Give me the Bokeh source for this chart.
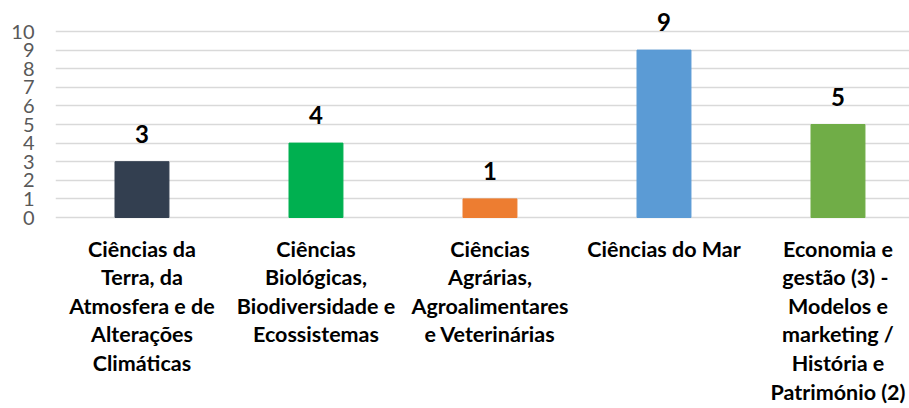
from bokeh.plotting import figure
from bokeh.models import Range1d, FixedTicker, ColumnDataSource
from bokeh.core.properties import value
from bokeh.embed import file_html
from bokeh.resources import INLINE

categories = [
    "Ciências da\nTerra, da\nAtmosfera e de\nAlterações\nClimáticas",
    "Ciências\nBiológicas,\nBiodiversidade e\nEcossistemas",
    "Ciências\nAgrárias,\nAgroalimentares\ne Veterinárias",
    "Ciências do Mar",
    "Economia e\ngestão  (3) -\nModelos e\nmarketing /\nHistória e\nPatrimónio (2)",
]
counts = [3, 4, 1, 9, 5]
colors = ["#333F50", "#00B050", "#ED7D31", "#5B9BD5", "#70AD47"]
y_ticks = list(range(0, 11))

W, H = 909, 408
p = figure(width=W, height=H, output_backend="svg", toolbar_location=None,
           x_range=Range1d(-0.497, 4.411), y_range=Range1d(-10.269, 11.667),
           min_border_left=55, min_border_right=0, min_border_top=0, min_border_bottom=0)
p.outline_line_color = None
p.background_fill_color = "white"
p.border_fill_color = "white"

xs = list(range(len(categories)))
src = ColumnDataSource(dict(x=xs, top=counts, color=colors, cat=categories,
                            lbl=[str(c) for c in counts], zero=[0] * len(xs)))

p.vbar(x="x", top="top", bottom=0, width=0.31, color="color", source=src)

p.text(x="x", y="top", text="lbl", source=src, text_align="center", text_baseline="middle",
       y_offset=-28, text_font=value("Lato"), text_font_style="bold", text_font_size="24px",
       text_color="#000000")

p.text(x="x", y="zero", text="cat", source=src, text_align="center", text_baseline="top",
       y_offset=18, text_font=value("Lato"), text_font_style="bold", text_font_size="21.5px",
       text_color="#000000", text_line_height=1.1)

p.xaxis.visible = False
p.xgrid.visible = False
p.yaxis.ticker = FixedTicker(ticks=y_ticks)
p.yaxis.axis_line_color = None
p.yaxis.major_tick_line_color = None
p.yaxis.minor_tick_line_color = None
p.yaxis.major_tick_out = 0
p.yaxis.major_tick_in = 0
p.yaxis.major_label_standoff = 21
p.yaxis.major_label_text_font = "Lato"
p.yaxis.major_label_text_font_size = "20px"
p.yaxis.major_label_text_color = "#595959"
p.ygrid.ticker = FixedTicker(ticks=y_ticks)
p.ygrid.grid_line_color = "#D9D9D9"
p.ygrid.grid_line_width = 1.5

open("out.html", "w").write(file_html(p, INLINE))
